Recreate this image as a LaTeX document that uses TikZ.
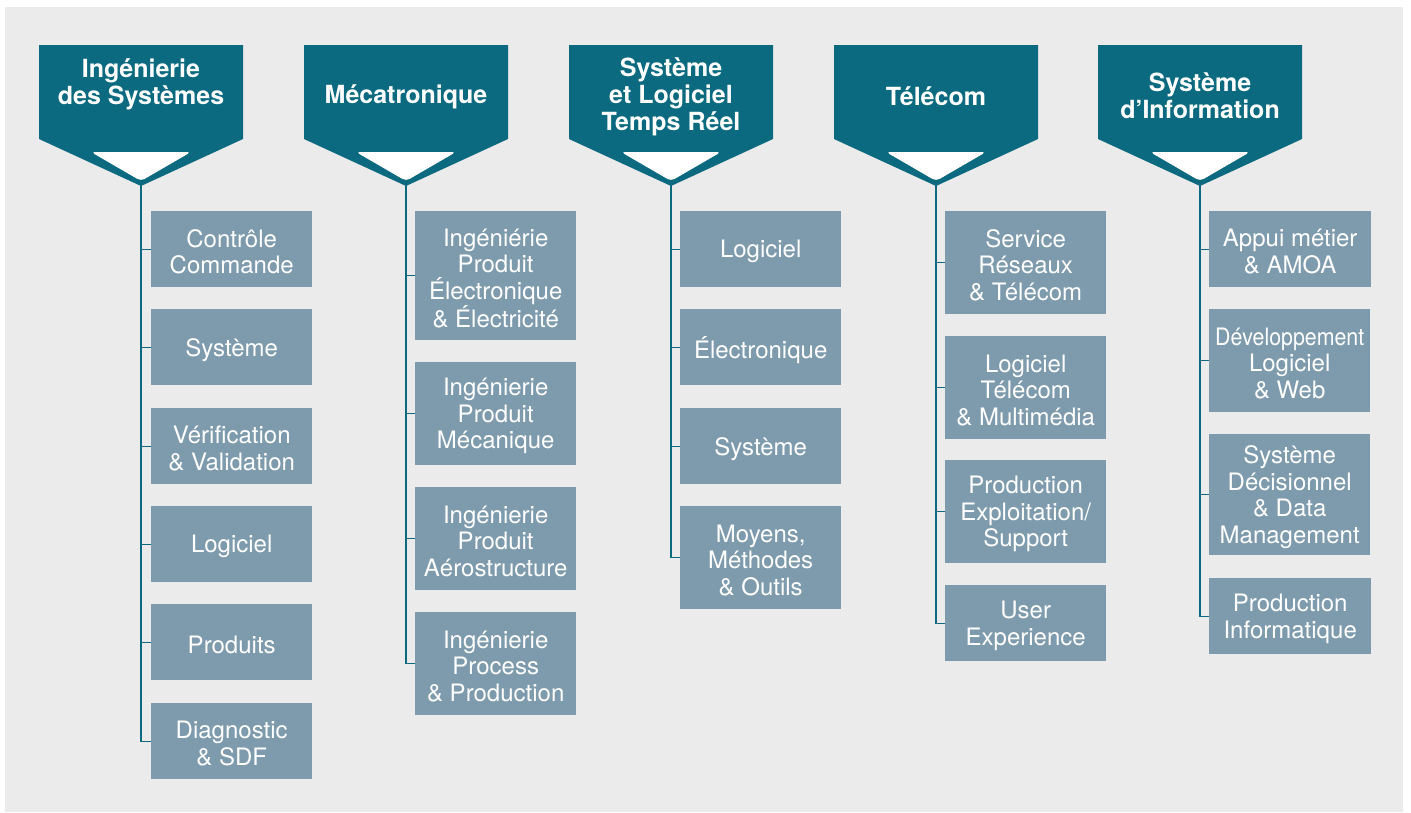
\documentclass[tikz,border=0pt]{standalone}
\usepackage{fontspec}
\setmainfont{TeX Gyre Heros}
\definecolor{teal1}{HTML}{0B6A7F}
\definecolor{boxc}{HTML}{7E9BAD}
\definecolor{bgc}{HTML}{EBEBEB}
\tikzset{
  box/.style={fill=boxc, minimum width=161pt, inner sep=0pt, anchor=north west},
  btext/.style={text=white, inner sep=0pt, align=center, font=\fontsize{24}{26.5}\selectfont},
  htext/.style={text=white, align=center, font=\fontsize{25}{27}\selectfont\bfseries},
  conn/.style={draw=teal1, line width=1.4pt},
}
\newcommand\hdr[2]{%
  \fill[teal1, rounded corners=0.1pt] (#1-102,45) -- (#1+102,45) -- (#1+102,139) -- (#1,186) -- (#1-102,139) -- cycle;
  \fill[white, rounded corners=4pt] (#1-50,152) -- (#1+50,152) -- (#1,181) -- cycle;
  \coordinate (#2) at (#1,185);
}
\newcommand\bx[6][161pt]{%
  \node[box, minimum width=#1, minimum height=#5] (#2) at (#3,#4) {};
  \node[btext] (#2t) at ([yshift=-2.5pt]#2.center) {#6};
}
\begin{document}
\begin{tikzpicture}[x=1pt,y=-1pt]
\useasboundingbox (0,0) rectangle (1411,812);
\fill[white] (0,0) rectangle (1411,812);
\fill[bgc] (5,7) rectangle (1403,812);

% headers
\hdr{141}{h1}
\hdr{406}{h2}
\hdr{671}{h3}
\hdr{936}{h4}
\hdr{1200}{h5}
\node[htext] (t1) at (141,84) {Ingénierie\\des Systèmes};
\node[htext] (t2) at (406,97) {Mécatronique};
\node[htext] (t3) at (671,96.5) {Système\\et Logiciel\\Temps Réel};
\node[htext] (t4) at (936,96) {Télécom};
\node[htext] (t5) at (1200,96) {Système\\d’Information};

% column 1
\bx{a1}{151}{211}{76pt}{Contrôle\\Commande}
\bx{a2}{151}{309}{76pt}{Système}
\bx{a3}{151}{408}{76pt}{Vérification\\\& Validation}
\bx{a4}{151}{506}{76pt}{Logiciel}
\bx{a5}{151}{604}{76pt}{Produits}
\bx{a6}{151}{703}{76pt}{Diagnostic\\\& SDF}

% column 2
\bx{b1}{415}{211}{129pt}{Ingéniérie\\Produit\\Électronique\\\& Électricité}
\bx{b2}{415}{362}{103pt}{Ingénierie\\Produit\\Mécanique}
\bx{b3}{415}{487}{103pt}{Ingénierie\\Produit\\Aérostructure}
\bx{b4}{415}{612}{103pt}{Ingénierie\\Process\\\& Production}

% column 3
\bx{c1}{680}{211}{76pt}{Logiciel}
\bx{c2}{680}{309}{76pt}{Électronique}
\bx{c3}{680}{408}{76pt}{Système}
\bx{c4}{680}{506}{103pt}{Moyens,\\Méthodes\\\& Outils}

% column 4
\bx{d1}{945}{211}{103pt}{Service\\Réseaux\\\& Télécom}
\bx{d2}{945}{336}{103pt}{Logiciel\\Télécom\\\& Multimédia}
\bx{d3}{945}{460}{103pt}{Production\\Exploitation/\\Support}
\bx{d4}{945}{585}{76pt}{User\\Experience}

% column 5
\bx[162pt]{e1}{1209}{211}{76pt}{Appui métier\\\& AMOA}
\bx{e2}{1209}{309}{103pt}{\resizebox{149pt}{\height}{Développement}\\Logiciel\\\& Web}
\bx{e3}{1209}{434}{121pt}{Système\\Décisionnel\\\& Data\\Management}
\bx[162pt]{e4}{1209}{578}{76pt}{Production\\Informatique}

% connectors
\foreach \h/\lst in {h1/{a1,a2,a3,a4,a5,a6}, h2/{b1,b2,b3,b4}, h3/{c1,c2,c3,c4}, h4/{d1,d2,d3,d4}, h5/{e1,e2,e3,e4}}{
  \foreach \b in \lst { \draw[conn] (\h) |- (\b.west); }
}
\end{tikzpicture}
\end{document}
